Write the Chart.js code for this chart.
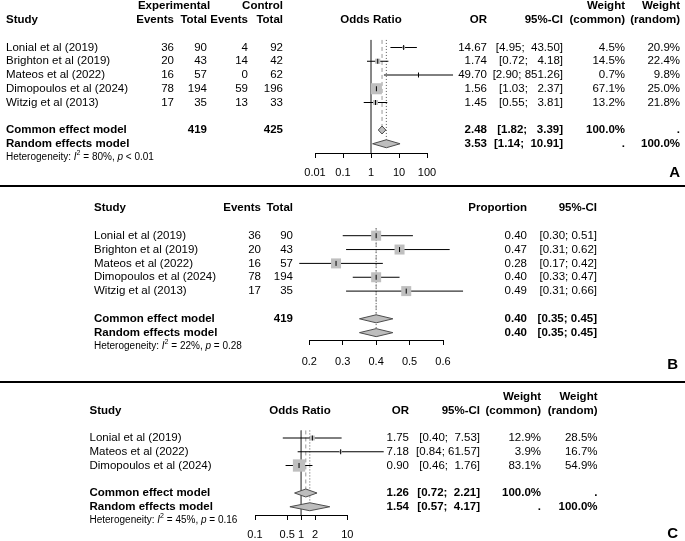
<!DOCTYPE html>
<html>
<head>
<meta charset="utf-8">
<script src="https://cdn.jsdelivr.net/npm/chart.js@4.4.1/dist/chart.umd.min.js"></script>
<style>
  html, body { margin: 0; padding: 0; background: #fff; }
  #wrap { position: relative; width: 685px; height: 541px; overflow: hidden; background: #fff; }
  #wrap canvas { position: absolute; left: 0; }
  .rule { position: absolute; left: 0; width: 685px; height: 2px; background: #000; }
</style>
</head>
<body>
<div id="wrap">
  <canvas id="panelA" width="685" height="185" style="top:0px"></canvas>
  <div class="rule" style="top:185px"></div>
  <canvas id="panelB" width="685" height="194" style="top:187px"></canvas>
  <div class="rule" style="top:381px"></div>
  <canvas id="panelC" width="685" height="158" style="top:383px"></canvas>
</div>
<script>
// ---------- DATA: panel A (odds ratio, experimental vs control) ----------
const studiesA = ["Lonial et al (2019)", "Brighton et al (2019)", "Mateos et al (2022)", "Dimopoulos et al (2024)", "Witzig et al (2013)"];
const expEventsA = [36, 20, 16, 78, 17];
const expTotalA = [90, 43, 57, 194, 35];
const ctrlEventsA = [4, 14, 0, 59, 13];
const ctrlTotalA = [92, 42, 62, 196, 33];
const orA = [14.67, 1.74, 49.70, 1.56, 1.45];
const orLowA = [4.95, 0.72, 2.90, 1.03, 0.55];
const orHighA = [43.50, 4.18, 851.26, 2.37, 3.81];
const wCommonA = [4.5, 14.5, 0.7, 67.1, 13.2];
const wRandomA = [20.9, 22.4, 9.8, 25.0, 21.8];
const commonA = [2.48, 1.82, 3.39];   // estimate, lower, upper
const randomA = [3.53, 1.14, 10.91];
const pooledTotalsA = [419, 425];
const hetA = [80, "< 0.01"];
const ticksA = [0.01, 0.1, 1, 10, 100];
const tickLabelsA = ["0.01", "0.1", "1", "10", "100"];

// ---------- DATA: panel B (single proportion) ----------
const studiesB = ["Lonial et al (2019)", "Brighton et al (2019)", "Mateos et al (2022)", "Dimopoulos et al (2024)", "Witzig et al (2013)"];
const eventsB = [36, 20, 16, 78, 17];
const totalB = [90, 43, 57, 194, 35];
const propB = [0.40, 0.47, 0.28, 0.40, 0.49];
const propLowB = [0.30, 0.31, 0.17, 0.33, 0.31];
const propHighB = [0.51, 0.62, 0.42, 0.47, 0.66];
const commonB = [0.40, 0.35, 0.45];
const randomB = [0.40, 0.35, 0.45];
const pooledTotalB = 419;
const hetB = [22, "= 0.28"];
const ticksB = [0.2, 0.3, 0.4, 0.5, 0.6];
const tickLabelsB = ["0.2", "0.3", "0.4", "0.5", "0.6"];

// ---------- DATA: panel C (odds ratio, subset) ----------
const studiesC = ["Lonial et al (2019)", "Mateos et al (2022)", "Dimopoulos et al (2024)"];
const orC = [1.75, 7.18, 0.90];
const orLowC = [0.40, 0.84, 0.46];
const orHighC = [7.53, 61.57, 1.76];
const wCommonC = [12.9, 3.9, 83.1];
const wRandomC = [28.5, 16.7, 54.9];
const commonC = [1.26, 0.72, 2.21];
const randomC = [1.54, 0.57, 4.17];
const hetC = [45, "= 0.16"];
const ticksC = [0.1, 0.5, 1, 2, 10];
const tickLabelsC = ["0.1", "0.5", "1", "2", "10"];

// ---------- STYLE ----------
const FONT = "'Liberation Sans', Arial, Helvetica, sans-serif";
const TXT = 11.5;
const SQUARE = "#bfbfbf";
const DIAMOND = "#bdbdbd";
const EDGE = "#4d4d4d";
const SQ_SCALE = 1.35;       // square side = SQ_SCALE * sqrt(weight %)
const HALF = 0.29;           // diamond half height, in rows
const LINE_TOP = 0.45;       // where reference lines start, in rows

function fmt2(v) { return v.toFixed(2); }

// R-style CI strings: both bounds padded to a common width
function ciStrings(lows, highs) {
  const l = lows.map(fmt2), h = highs.map(fmt2);
  const wl = Math.max(...l.map(s => s.length));
  const wh = Math.max(...h.map(s => s.length));
  return l.map((s, i) => "[" + s.padStart(wl) + "; " + h[i].padStart(wh) + "]");
}

function put(ctx, s, x, y, align, bold, size) {
  ctx.font = (bold ? "bold " : "") + (size || TXT) + "px " + FONT;
  ctx.textAlign = align || "left";
  ctx.fillText(String(s), x, y);
}

function heterogeneity(ctx, x, y, het) {
  const parts = [["Heterogeneity: ", ""], ["I", "italic "], ["2", "sup"],
                 [" = " + het[0] + "%, ", ""], ["p", "italic "], [" " + het[1], ""]];
  ctx.textAlign = "left";
  parts.forEach(([t, st]) => {
    const sup = st === "sup";
    ctx.font = (sup ? "" : st) + (sup ? 7 : 10) + "px " + FONT;
    ctx.fillText(t, x, sup ? y - 4 : y);
    x += ctx.measureText(t).width;
  });
}

function vline(x, y0, y1, color, dash) {
  return {
    data: [{ x: x, y: y0 }, { x: x, y: y1 }],
    showLine: true, borderColor: color, borderWidth: 1, borderDash: dash,
    pointRadius: 0, clip: false, order: 6
  };
}

// one forest plot per canvas; texts are drawn by a plugin on the row scale
function forestChart(id, p) {
  const n = p.est.length;
  const rows = p.est.map((_, i) => i + 1);
  const rowC = n + 2, rowR = n + 3;
  const L = p.layout;
  const padTop = L.firstRow - L.step;
  const yMax = (L.axisY - padTop) / L.step;
  const pts = p.est.map((v, i) => ({ x: v, y: rows[i] }));

  const sets = [];
  if (p.nullValue != null) sets.push(vline(p.nullValue, LINE_TOP, yMax, "#777", []));
  sets.push(vline(p.common[0], LINE_TOP, rowC - HALF, "#999", [4, 3]));
  sets.push(vline(p.random[0], LINE_TOP, rowR - HALF, "#555", [1, 2]));

  p.lo.forEach((lo, i) => sets.push({
    data: [{ x: lo, y: rows[i] }, { x: p.hi[i], y: rows[i] }],
    showLine: true, borderColor: "#000", borderWidth: 1, pointRadius: 0, clip: false, order: 5
  }));

  sets.push({
    data: pts, pointStyle: "rect",
    pointRadius: c => p.sides[c.dataIndex] / Math.SQRT2,
    backgroundColor: SQUARE, borderWidth: 0, clip: false, order: 4
  });
  sets.push({
    data: pts, pointStyle: "line", rotation: 90, pointRadius: 2.5,
    borderColor: "#000", borderWidth: 1, clip: false, order: 3
  });

  [[p.common, rowC], [p.random, rowR]].forEach(([s, r]) => sets.push({
    data: [{ x: s[1], y: r }, { x: s[0], y: r - HALF }, { x: s[2], y: r },
           { x: s[0], y: r + HALF }, { x: s[1], y: r }],
    showLine: true, fill: "shape", tension: 0,
    backgroundColor: DIAMOND, borderColor: EDGE, borderWidth: 1,
    pointRadius: 0, clip: false, order: 2
  }));

  const textPlugin = {
    id: "columns" + id,
    afterDraw(chart) {
      const ctx = chart.ctx;
      const ys = chart.scales.y;
      ctx.save();
      ctx.fillStyle = "#000";
      ctx.textBaseline = "middle";
      p.drawText(ctx, r => ys.getPixelForValue(r), rowC, rowR);
      ctx.restore();
    }
  };

  return new Chart(document.getElementById(id), {
    type: "scatter",
    data: { datasets: sets },
    options: {
      responsive: false,
      animation: false,
      events: [],
      layout: { padding: { left: L.padLeft, right: L.padRight, top: padTop, bottom: 0 } },
      plugins: { legend: { display: false }, tooltip: { enabled: false } },
      scales: {
        x: {
          type: p.xType, min: p.ticks[0], max: p.ticks[p.ticks.length - 1],
          afterBuildTicks: s => { s.ticks = p.ticks.map(v => ({ value: v })); },
          afterFit: s => { s.height = L.canvasH - L.axisY; },
          ticks: {
            autoSkip: false, maxRotation: 0, padding: L.tickPad, color: "#000",
            font: { family: FONT, size: 11 },
            callback: (v, i) => p.tickLabels[i]
          },
          grid: { drawOnChartArea: false, drawTicks: true, tickLength: 5, color: "#000", lineWidth: 1 },
          border: { display: true, color: "#000", width: 1 }
        },
        y: { type: "linear", reverse: true, min: 0, max: yMax, display: false }
      }
    },
    plugins: [textPlugin]
  });
}

// ---------- PANEL A ----------
const ciA = ciStrings(orLowA.concat([commonA[1], randomA[1]]), orHighA.concat([commonA[2], randomA[2]]));
forestChart("panelA", {
  xType: "logarithmic", ticks: ticksA, tickLabels: tickLabelsA, nullValue: 1,
  est: orA, lo: orLowA, hi: orHighA, sides: wCommonA.map(w => SQ_SCALE * Math.sqrt(w)),
  common: commonA, random: randomA,
  layout: { canvasH: 185, firstRow: 47.5, step: 13.75, axisY: 153, padLeft: 315, padRight: 258, tickPad: 8 },
  drawText(ctx, Y, rowC, rowR) {
    put(ctx, "Experimental", 174, Y(-2), "center", true);
    put(ctx, "Control", 283, Y(-2), "right", true);
    put(ctx, "Weight", 625, Y(-2), "right", true);
    put(ctx, "Weight", 680, Y(-2), "right", true);
    put(ctx, "Study", 6, Y(-1), "left", true);
    put(ctx, "Events", 174, Y(-1), "right", true);
    put(ctx, "Total", 207, Y(-1), "right", true);
    put(ctx, "Events", 248, Y(-1), "right", true);
    put(ctx, "Total", 283, Y(-1), "right", true);
    put(ctx, "Odds Ratio", 371, Y(-1), "center", true);
    put(ctx, "OR", 487, Y(-1), "right", true);
    put(ctx, "95%-CI", 563, Y(-1), "right", true);
    put(ctx, "(common)", 625, Y(-1), "right", true);
    put(ctx, "(random)", 680, Y(-1), "right", true);
    studiesA.forEach((s, i) => {
      const y = Y(i + 1);
      put(ctx, s, 6, y);
      put(ctx, expEventsA[i], 174, y, "right");
      put(ctx, expTotalA[i], 207, y, "right");
      put(ctx, ctrlEventsA[i], 248, y, "right");
      put(ctx, ctrlTotalA[i], 283, y, "right");
      put(ctx, fmt2(orA[i]), 487, y, "right");
      put(ctx, ciA[i], 563, y, "right");
      put(ctx, wCommonA[i].toFixed(1) + "%", 625, y, "right");
      put(ctx, wRandomA[i].toFixed(1) + "%", 680, y, "right");
    });
    const n = studiesA.length;
    put(ctx, "Common effect model", 6, Y(rowC), "left", true);
    put(ctx, pooledTotalsA[0], 207, Y(rowC), "right", true);
    put(ctx, pooledTotalsA[1], 283, Y(rowC), "right", true);
    put(ctx, fmt2(commonA[0]), 487, Y(rowC), "right", true);
    put(ctx, ciA[n], 563, Y(rowC), "right", true);
    put(ctx, "100.0%", 625, Y(rowC), "right", true);
    put(ctx, ".", 680, Y(rowC), "right", true);
    put(ctx, "Random effects model", 6, Y(rowR), "left", true);
    put(ctx, fmt2(randomA[0]), 487, Y(rowR), "right", true);
    put(ctx, ciA[n + 1], 563, Y(rowR), "right", true);
    put(ctx, ".", 625, Y(rowR), "right", true);
    put(ctx, "100.0%", 680, Y(rowR), "right", true);
    heterogeneity(ctx, 6, Y(rowR + 1), hetA);
    put(ctx, "A", 680, 173, "right", true, 15);
  }
});

// ---------- PANEL B ----------
const ciB = ciStrings(propLowB.concat([commonB[1], randomB[1]]), propHighB.concat([commonB[2], randomB[2]]));
forestChart("panelB", {
  xType: "linear", ticks: ticksB, tickLabels: tickLabelsB, nullValue: null,
  est: propB, lo: propLowB, hi: propHighB, sides: propB.map(() => 10),
  common: commonB, random: randomB,
  layout: { canvasH: 194, firstRow: 48.7, step: 13.85, axisY: 153, padLeft: 309.3, padRight: 242, tickPad: 10 },
  drawText(ctx, Y, rowC, rowR) {
    put(ctx, "Study", 94, Y(-1), "left", true);
    put(ctx, "Events", 261, Y(-1), "right", true);
    put(ctx, "Total", 293, Y(-1), "right", true);
    put(ctx, "Proportion", 527, Y(-1), "right", true);
    put(ctx, "95%-CI", 597, Y(-1), "right", true);
    studiesB.forEach((s, i) => {
      const y = Y(i + 1);
      put(ctx, s, 94, y);
      put(ctx, eventsB[i], 261, y, "right");
      put(ctx, totalB[i], 293, y, "right");
      put(ctx, fmt2(propB[i]), 527, y, "right");
      put(ctx, ciB[i], 597, y, "right");
    });
    const n = studiesB.length;
    put(ctx, "Common effect model", 94, Y(rowC), "left", true);
    put(ctx, pooledTotalB, 293, Y(rowC), "right", true);
    put(ctx, fmt2(commonB[0]), 527, Y(rowC), "right", true);
    put(ctx, ciB[n], 597, Y(rowC), "right", true);
    put(ctx, "Random effects model", 94, Y(rowR), "left", true);
    put(ctx, fmt2(randomB[0]), 527, Y(rowR), "right", true);
    put(ctx, ciB[n + 1], 597, Y(rowR), "right", true);
    heterogeneity(ctx, 94, Y(rowR + 1), hetB);
    put(ctx, "B", 678, 178, "right", true, 15);
  }
});

// ---------- PANEL C ----------
const ciC = ciStrings(orLowC.concat([commonC[1], randomC[1]]), orHighC.concat([commonC[2], randomC[2]]));
forestChart("panelC", {
  xType: "logarithmic", ticks: ticksC, tickLabels: tickLabelsC, nullValue: 1,
  est: orC, lo: orLowC, hi: orHighC, sides: wCommonC.map(w => SQ_SCALE * Math.sqrt(w)),
  common: commonC, random: randomC,
  layout: { canvasH: 158, firstRow: 55, step: 13.75, axisY: 132, padLeft: 255, padRight: 337.7, tickPad: 8 },
  drawText(ctx, Y, rowC, rowR) {
    put(ctx, "Weight", 541, Y(-2), "right", true);
    put(ctx, "Weight", 597.5, Y(-2), "right", true);
    put(ctx, "Study", 89.5, Y(-1), "left", true);
    put(ctx, "Odds Ratio", 300, Y(-1), "center", true);
    put(ctx, "OR", 409, Y(-1), "right", true);
    put(ctx, "95%-CI", 480, Y(-1), "right", true);
    put(ctx, "(common)", 541, Y(-1), "right", true);
    put(ctx, "(random)", 597.5, Y(-1), "right", true);
    studiesC.forEach((s, i) => {
      const y = Y(i + 1);
      put(ctx, s, 89.5, y);
      put(ctx, fmt2(orC[i]), 409, y, "right");
      put(ctx, ciC[i], 480, y, "right");
      put(ctx, wCommonC[i].toFixed(1) + "%", 541, y, "right");
      put(ctx, wRandomC[i].toFixed(1) + "%", 597.5, y, "right");
    });
    const n = studiesC.length;
    put(ctx, "Common effect model", 89.5, Y(rowC), "left", true);
    put(ctx, fmt2(commonC[0]), 409, Y(rowC), "right", true);
    put(ctx, ciC[n], 480, Y(rowC), "right", true);
    put(ctx, "100.0%", 541, Y(rowC), "right", true);
    put(ctx, ".", 597.5, Y(rowC), "right", true);
    put(ctx, "Random effects model", 89.5, Y(rowR), "left", true);
    put(ctx, fmt2(randomC[0]), 409, Y(rowR), "right", true);
    put(ctx, ciC[n + 1], 480, Y(rowR), "right", true);
    put(ctx, ".", 541, Y(rowR), "right", true);
    put(ctx, "100.0%", 597.5, Y(rowR), "right", true);
    heterogeneity(ctx, 89.5, Y(rowR + 1), hetC);
    put(ctx, "C", 678, 151, "right", true, 15);
  }
});
</script>
</body>
</html>
